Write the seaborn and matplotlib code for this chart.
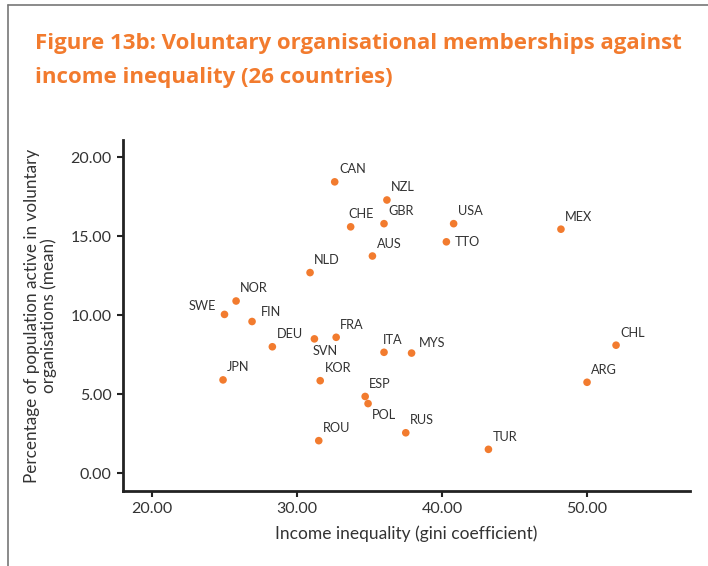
import matplotlib
matplotlib.use("Agg")
import matplotlib.pyplot as plt
import seaborn as sns
import pandas as pd
from matplotlib.lines import Line2D

countries = ['CAN', 'NZL', 'CHE', 'GBR', 'AUS', 'NLD', 'NOR', 'SWE', 'FIN', 'DEU',
             'SVN', 'FRA', 'ITA', 'MYS', 'JPN', 'KOR', 'ESP', 'POL', 'RUS', 'ROU',
             'TUR', 'ARG', 'CHL', 'USA', 'TTO', 'MEX']
gini = [32.6, 36.2, 33.7, 36.0, 35.2, 30.9, 25.8, 25.0, 26.9, 28.3,
        31.2, 32.7, 36.0, 37.9, 24.9, 31.6, 34.7, 34.9, 37.5, 31.5,
        43.2, 50.0, 52.0, 40.8, 40.3, 48.2]
members = [18.45, 17.3, 15.6, 15.8, 13.75, 12.7, 10.9, 10.05, 9.6, 8.0,
           8.5, 8.6, 7.65, 7.6, 5.9, 5.85, 4.85, 4.4, 2.55, 2.05,
           1.5, 5.75, 8.1, 15.8, 14.65, 15.45]

df = pd.DataFrame({'country': countries, 'gini': gini, 'members': members})

orange = '#F27B2E'
text_col = '#333333'

sns.set_style('ticks')
plt.rcParams['font.family'] = ['Lato', 'DejaVu Sans']

fig = plt.figure(figsize=(7.08, 5.66), dpi=100)
ax = fig.add_axes([0.1737, 0.1325, 0.8009, 0.6201])

sns.scatterplot(data=df, x='gini', y='members', ax=ax, color=orange,
                s=30, edgecolor='none', zorder=3)

# label offsets in points, (dx, dy, ha)
offsets = {'SWE': (-6, 6, 'right'), 'TTO': (6, 0, 'left'), 'SVN': (-1, -9, 'left'),
           'POL': (3, -8, 'left'), 'MYS': (5, 7, 'left'), 'FIN': (6, 6.5, 'left'),
           'CHE': (-1.5, 9, 'left'), 'ITA': (-1, 9, 'left')}
for c, xv, yv in zip(countries, gini, members):
    dx, dy, ha = offsets.get(c, (3, 9, 'left'))
    ax.annotate(c, (xv, yv), xytext=(dx, dy), textcoords='offset points',
                ha=ha, va='center', fontsize=9.2, color=text_col)

ax.set_xlim(18.0, 57.1)
ax.set_ylim(-1.14, 21.1)
ax.set_xticks([20, 30, 40, 50])
ax.set_yticks([0, 5, 10, 15, 20])
ax.set_xticklabels([f'{v:.2f}' for v in [20, 30, 40, 50]])
ax.set_yticklabels([f'{v:.2f}' for v in [0, 5, 10, 15, 20]])
ax.tick_params(axis='both', colors='#222222', labelcolor=text_col, labelsize=11.5,
               length=4, width=1.5, pad=4)
sns.despine(ax=ax)
for sp in ['left', 'bottom']:
    ax.spines[sp].set_linewidth(2)
    ax.spines[sp].set_color('#222222')

ax.set_xlabel('Income inequality (gini coefficient)', fontsize=12.5, color=text_col, labelpad=7)
ax.set_ylabel('Percentage of population active in voluntary\norganisations (mean)',
              fontsize=12.3, color=text_col, labelpad=10, linespacing=1.0)

title_font = ['Open Sans', 'DejaVu Sans']
fig.text(35 / 708, 1 - 44 / 566, 'Figure 13b: Voluntary organisational memberships against',
         fontsize=16, fontweight='bold', color=orange, va='center', ha='left', family=title_font)
fig.text(35 / 708, 1 - 78 / 566, 'income inequality (26 countries)',
         fontsize=16, fontweight='bold', color=orange, va='center', ha='left', family=title_font)

# frame lines on top and left
fig.add_artist(Line2D([8 / 708, 1], [1 - 5 / 566, 1 - 5 / 566], color='#777777', lw=1.2))
fig.add_artist(Line2D([8 / 708, 8 / 708], [0, 1 - 5 / 566], color='#777777', lw=1.2))

fig.savefig('out.png', dpi=100)
